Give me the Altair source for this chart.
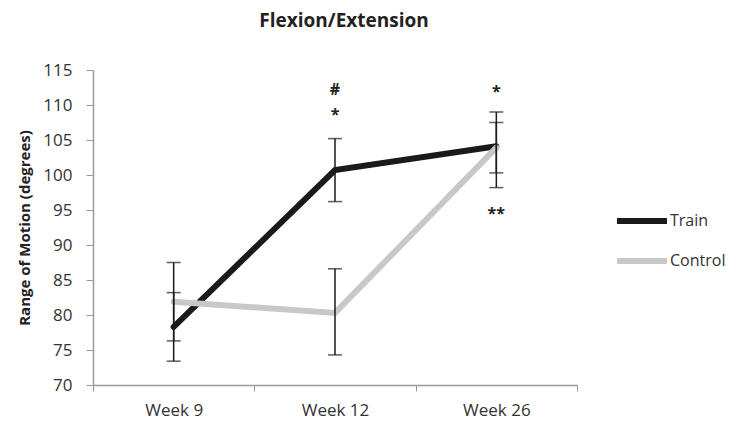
import altair as alt
import pandas as pd

weeks = ["Week 9", "Week 12", "Week 26"]
train = [78.3, 100.7, 104.1]
train_lo = [73.4, 96.2, 98.2]
train_hi = [83.2, 105.2, 109.0]
control = [81.9, 80.3, 103.9]
control_lo = [76.3, 74.3, 100.3]
control_hi = [87.5, 86.6, 107.5]

ann_week = ["Week 12", "Week 12", "Week 26", "Week 26"]
ann_value = [112.1, 108.6, 111.9, 94.4]
ann_text = ["#", "*", "*", "**"]

y_ticks = list(range(70, 116, 5))

rows = []
for i, w in enumerate(weeks):
    rows.append({"week": w, "group": "Train", "value": train[i], "lo": train_lo[i], "hi": train_hi[i]})
    rows.append({"week": w, "group": "Control", "value": control[i], "lo": control_lo[i], "hi": control_hi[i]})
df = pd.DataFrame(rows)
ann = pd.DataFrame({"week": ann_week, "value": ann_value, "text": ann_text})

FONT = "Open Sans"
YTITLE = "Range of Motion (degrees)"

xaxis = alt.Axis(labelAngle=0, labelFontSize=17, labelColor="#333333", labelFont=FONT,
                 domainColor="#9a9a9a", tickColor="#9a9a9a", tickSize=6, tickBand="extent",
                 labelPadding=11, domainWidth=1.5)
yaxis = alt.Axis(values=y_ticks, grid=False, labelFontSize=17, labelColor="#333333", labelFont=FONT,
                 domainColor="#9a9a9a", tickColor="#9a9a9a", tickSize=7, labelPadding=14,
                 titleFontSize=15, titleFont=FONT, titleFontWeight="bold", titleColor="#222222",
                 titlePadding=10, domainWidth=1.5)
yscale = alt.Scale(domain=[70, 115], nice=False, zero=False)


def X():
    return alt.X("week:N", sort=weeks, title=None, axis=xaxis)


def Y(field):
    return alt.Y(field + ":Q", scale=yscale, title=YTITLE, axis=yaxis)


color = alt.Color("group:N", scale=alt.Scale(domain=["Train", "Control"], range=["#1a1a1a", "#c8c8c8"]),
                  legend=alt.Legend(title=None, orient="none", legendX=521, legendY=123,
                                    symbolType="stroke", symbolStrokeWidth=6, symbolSize=2500,
                                    labelFontSize=16, labelFont=FONT, labelColor="#333333",
                                    rowPadding=-6, labelOffset=0))

lines_train = alt.Chart(df[df.group == "Train"]).mark_line(strokeWidth=6, strokeCap="round").encode(
    x=X(), y=Y("value"), color=color)
lines_control = alt.Chart(df[df.group == "Control"]).mark_line(strokeWidth=6, strokeCap="round").encode(
    x=X(), y=Y("value"), color=color)

bars = alt.Chart(df).mark_rule(color="#1a1a1a", strokeWidth=1.5).encode(
    x=X(), y=Y("lo"), y2="hi:Q")
cap_lo = alt.Chart(df).mark_tick(color="#1a1a1a", thickness=1.5, size=14, orient="horizontal").encode(
    x=X(), y=Y("lo"))
cap_hi = alt.Chart(df).mark_tick(color="#1a1a1a", thickness=1.5, size=14, orient="horizontal").encode(
    x=X(), y=Y("hi"))

texts = alt.Chart(ann).mark_text(fontSize=16, font=FONT, fontWeight="bold", color="#222222",
                                 baseline="middle").encode(
    x=X(), y=Y("value"), text="text:N")

chart = alt.layer(lines_train, lines_control, bars, cap_lo, cap_hi, texts).properties(
    width=484, height=315,
    title=alt.TitleParams("Flexion/Extension", fontSize=19, font=FONT, fontWeight="bold",
                          color="#222222", offset=30, anchor="middle", dx=9),
    autosize=alt.AutoSizeParams(type="none"),
    padding={"left": 85, "top": 62, "right": 149, "bottom": 40},
    background="white",
).configure_view(stroke=None)

chart.save("out.html", embed_options={"renderer": "svg", "actions": False})
